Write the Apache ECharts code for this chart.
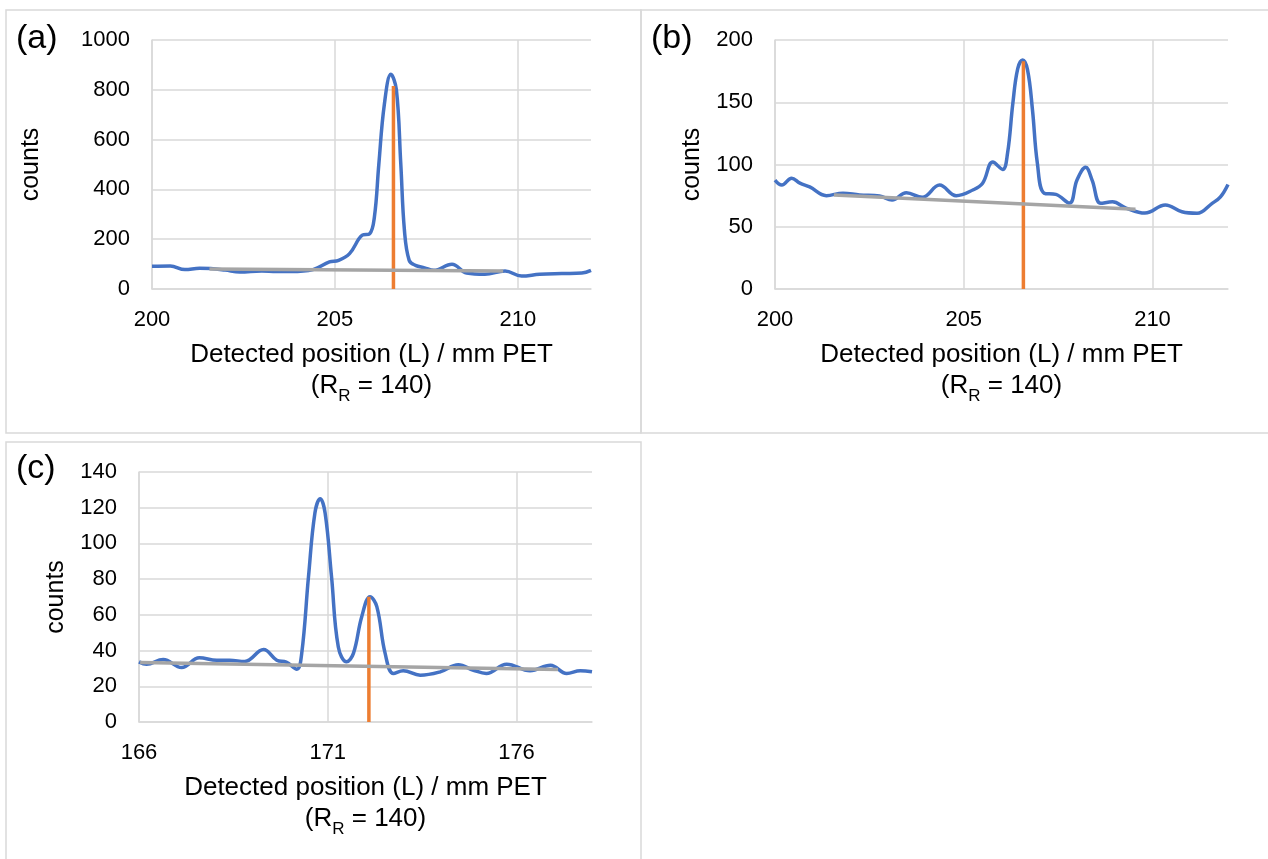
<!DOCTYPE html>
<html>
<head>
<meta charset="utf-8">
<script src="https://cdn.jsdelivr.net/npm/echarts@6/dist/echarts.min.js"></script>
<style>
  html, body { margin: 0; padding: 0; background: #fff; }
  #chart { width: 1268px; height: 859px; }
</style>
</head>
<body>
<div id="chart"></div>
<script>
// ---- Panel (a): detected position vs counts ----
const aPos    = [200.0, 200.5, 200.9, 201.3, 201.6, 202.0, 202.4, 203.0, 203.4, 203.8, 204.4, 204.85, 205.1, 205.4, 205.75, 205.95, 206.08, 206.2, 206.35, 206.53, 206.68, 206.8, 206.9, 207.03, 207.2, 207.45, 207.7, 208.2, 208.6, 209.1, 209.65, 210.1, 210.6, 211.2, 211.75, 212.0];
const aCounts = [91, 92, 78, 83, 82, 76, 68, 72, 70, 70, 78, 109, 115, 142, 216, 222, 290, 500, 740, 862, 800, 504, 236, 115, 95, 85, 75, 99, 64, 59, 72, 52, 59, 62, 64, 75];
const aMarkerPos = 206.6, aMarkerTop = 815;
const aBasePos = [201.57, 209.6], aBaseCounts = [80, 72];

// ---- Panel (b) ----
const bPos    = [200.0, 200.18, 200.44, 200.66, 200.92, 201.36, 201.8, 202.24, 202.77, 203.1, 203.48, 203.9, 204.36, 204.8, 205.24, 205.5, 205.77, 206.03, 206.16, 206.3, 206.43, 206.56, 206.69, 206.82, 206.95, 207.13, 207.44, 207.8, 208.0, 208.23, 208.4, 208.63, 208.94, 209.3, 209.8, 210.34, 210.78, 211.18, 211.58, 211.8, 212.0];
const bCounts = [87.5, 83.5, 89, 85, 82, 75, 77, 75.5, 74.7, 71.5, 77.4, 73.6, 83.5, 75, 79.5, 85, 102, 96, 109, 149, 177, 184, 176, 144, 101, 77, 76, 69, 87.5, 97.7, 87.5, 68.8, 70, 65, 61, 67.5, 62, 60.8, 68.8, 74, 84];
const bMarkerPos = 206.58, bMarkerTop = 183;
const bBasePos = [201.56, 209.55], bBaseCounts = [75.5, 64];

// ---- Panel (c) ----
const cPos    = [166.0, 166.2, 166.64, 167.13, 167.6, 168.06, 168.4, 168.8, 169.3, 169.65, 169.9, 170.18, 170.31, 170.49, 170.66, 170.8, 170.93, 171.1, 171.28, 171.5, 171.68, 171.9, 172.12, 172.3, 172.52, 172.74, 173.0, 173.45, 173.98, 174.46, 174.86, 175.2, 175.74, 176.36, 176.9, 177.33, 177.69, 178.0];
const cCounts = [33.7, 32.4, 35, 30.5, 36, 34.6, 34.6, 33.9, 40.6, 34.6, 33.5, 29.6, 38.4, 81.4, 117, 125, 117, 81.4, 42, 33.7, 38.4, 59, 70.2, 64.6, 38.4, 27.2, 28.7, 26.2, 28.1, 32, 29, 27.2, 32.4, 28.7, 31.8, 27.2, 28.7, 28.1];
const cMarkerPos = 172.09, cMarkerTop = 70.2;
const cBasePos = [166.03, 177.1], cBaseCounts = [33.3, 29.4];

// ---- Axis settings and labels ----
const panelLabels = ['(a)', '(b)', '(c)'];
const xRanges = [[200, 212], [200, 212], [166, 178]];
const yRanges = [[0, 1000, 200], [0, 200, 50], [0, 140, 20]];
const xTitle = 'Detected position (L) / mm PET';
const yTitle = 'counts';

const FONT = '"Liberation Sans", Arial, sans-serif';
const GRID_COLOR = '#d9d9d9';

const grids = [
  { left: 152, top: 40, width: 439, height: 249 },
  { left: 775, top: 40, width: 453, height: 249 },
  { left: 139, top: 472, width: 453, height: 250 }
];

const zip = (xs, ys) => xs.map((x, i) => [x, ys[i]]);
const panels = [
  { pos: aPos, counts: aCounts, mPos: aMarkerPos, mTop: aMarkerTop, bx: aBasePos, by: aBaseCounts },
  { pos: bPos, counts: bCounts, mPos: bMarkerPos, mTop: bMarkerTop, bx: bBasePos, by: bBaseCounts },
  { pos: cPos, counts: cCounts, mPos: cMarkerPos, mTop: cMarkerTop, bx: cBasePos, by: cBaseCounts }
];

const xAxes = xRanges.map((r, i) => ({
  type: 'value', gridIndex: i, min: r[0], max: r[1], interval: 5,
  axisLine: { show: true, lineStyle: { color: GRID_COLOR, width: 1.5 } },
  axisTick: { show: false },
  axisLabel: { show: true, showMaxLabel: false, color: '#000', fontFamily: FONT, fontSize: 22, margin: 20 },
  splitLine: { show: true, showMaxLine: false, lineStyle: { color: GRID_COLOR, width: 1.5 } },
  name: xTitle + '\n{p|(R}{sub|R}{p| = 140)}',
  nameLocation: 'middle', nameGap: 50,
  nameTextStyle: {
    color: '#000', fontFamily: FONT, fontSize: 26, lineHeight: 31, align: 'center',
    rich: {
      p: { fontFamily: FONT, fontSize: 26, color: '#000', lineHeight: 31 },
      sub: { fontFamily: FONT, fontSize: 17, color: '#000', verticalAlign: 'bottom', lineHeight: 31, padding: [0, 0, -4, 0] }
    }
  }
}));

const yAxes = yRanges.map((r, i) => ({
  type: 'value', gridIndex: i, min: r[0], max: r[1], interval: r[2],
  axisLine: { show: true, lineStyle: { color: GRID_COLOR, width: 1.5 } },
  axisTick: { show: false },
  axisLabel: { color: '#000', fontFamily: FONT, fontSize: 22, margin: 22, formatter: v => String(v) },
  splitLine: { show: true, lineStyle: { color: GRID_COLOR, width: 1.5 } },
  name: yTitle, nameLocation: 'middle', nameGap: [108, 70, 70][i],
  nameTextStyle: { color: '#000', fontFamily: FONT, fontSize: 25 }
}));

const series = [];
panels.forEach((p, i) => {
  series.push({
    type: 'line', xAxisIndex: i, yAxisIndex: i, data: zip(p.pos, p.counts),
    smooth: 0.4, symbol: 'none', lineStyle: { color: '#4472C4', width: 3.5 }, z: 2
  });
  series.push({
    type: 'line', xAxisIndex: i, yAxisIndex: i, data: [[p.mPos, 0], [p.mPos, p.mTop]],
    symbol: 'none', lineStyle: { color: '#ED7D31', width: 3.5 }, z: 3
  });
  series.push({
    type: 'line', xAxisIndex: i, yAxisIndex: i, data: zip(p.bx, p.by),
    symbol: 'none', lineStyle: { color: '#A5A5A5', width: 3.5 }, z: 4
  });
});

// panel frames and letters
const frames = [
  { x: 6, y: 10, w: 635, h: 423 },
  { x: 641, y: 10, w: 640, h: 423 },
  { x: 6, y: 442, w: 635, h: 430 }
];
const letterPos = [[16, 41], [651, 41], [16, 471]];
const graphic = [];
frames.forEach(f => graphic.push({
  type: 'rect', silent: true, z: -10,
  shape: { x: f.x, y: f.y, width: f.w, height: f.h },
  style: { fill: 'none', stroke: GRID_COLOR, lineWidth: 1.5 }
}));
panelLabels.forEach((t, i) => graphic.push({
  type: 'text', left: letterPos[i][0], top: letterPos[i][1] - 19,
  style: { text: t, fontFamily: FONT, fontSize: 34, fill: '#000' }
}));

const chart = echarts.init(document.getElementById('chart'), null, { renderer: 'canvas' });
chart.setOption({
  animation: false,
  backgroundColor: '#fff',
  grid: grids.map(g => Object.assign({ containLabel: false }, g)),
  xAxis: xAxes,
  yAxis: yAxes,
  series: series,
  graphic: graphic
});
</script>
</body>
</html>
